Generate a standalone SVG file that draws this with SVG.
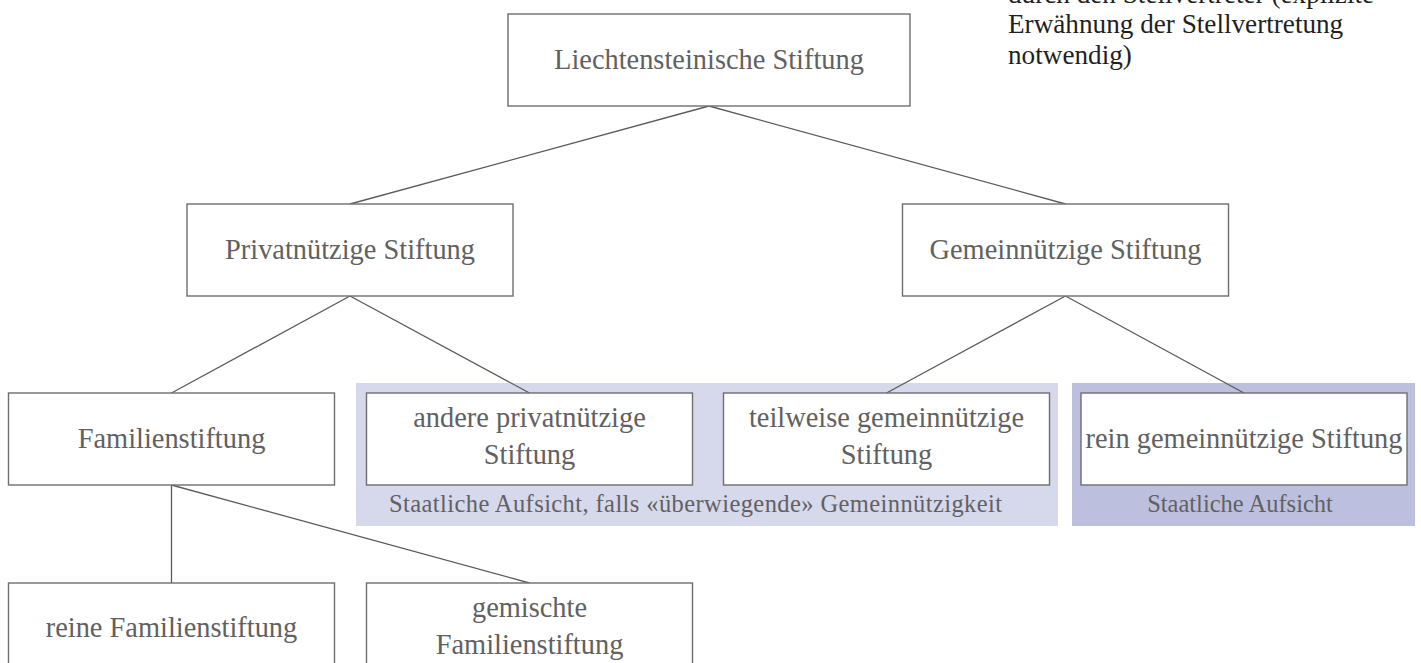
<svg xmlns="http://www.w3.org/2000/svg" width="1421" height="663" viewBox="0 0 1421 663">
<style>
.box{fill:#fff;stroke:#6e6e6e;stroke-width:1.4}
.t{font-family:"Liberation Serif","Times New Roman",serif;font-size:28.4px;fill:#616161;text-anchor:middle}
.lbl{font-family:"Liberation Serif","Times New Roman",serif;font-size:24.5px;fill:#616161}
.c{stroke:#5a5a5a;stroke-width:1.3;fill:none}
</style>
<rect width="1421" height="663" fill="#fff"/>
<g id="bands">
<rect x="356" y="383" width="702" height="143" fill="#d6d8ec"/>
<rect x="1072" y="383" width="343" height="143" fill="#bcc0de"/>
<text class="lbl" x="389" y="512" textLength="613" lengthAdjust="spacing">Staatliche Aufsicht, falls «überwiegende» Gemeinnützigkeit</text>
<text class="lbl" x="1240" y="512" text-anchor="middle">Staatliche Aufsicht</text>
</g>
<g id="connectors">
<line class="c" x1="709" y1="106" x2="350" y2="204"/>
<line class="c" x1="709" y1="106" x2="1065.5" y2="204"/>
<line class="c" x1="350" y1="296" x2="171.5" y2="393"/>
<line class="c" x1="350" y1="296" x2="529.5" y2="393"/>
<line class="c" x1="1065.5" y1="296" x2="886.5" y2="393"/>
<line class="c" x1="1065.5" y1="296" x2="1244" y2="393"/>
<line class="c" x1="171.5" y1="485" x2="171.5" y2="583"/>
<line class="c" x1="171.5" y1="485" x2="529.5" y2="583"/>
</g>
<g id="root">
<rect class="box" x="508" y="14" width="402" height="92"/>
<text class="t" x="709" y="68.5">Liechtensteinische Stiftung</text>
</g>
<g id="privat">
<rect class="box" x="187" y="204" width="326" height="92"/>
<text class="t" x="350" y="258.5">Privatnützige Stiftung</text>
</g>
<g id="gemein">
<rect class="box" x="902.5" y="204" width="326" height="92"/>
<text class="t" x="1065.5" y="258.5">Gemeinnützige Stiftung</text>
</g>
<g id="familie">
<rect class="box" x="8.5" y="393" width="326" height="92"/>
<text class="t" x="171.5" y="447.5">Familienstiftung</text>
</g>
<g id="andere">
<rect class="box" x="366.5" y="393" width="326" height="92"/>
<text class="t" x="529.5" y="427">andere privatnützige</text>
<text class="t" x="529.5" y="464">Stiftung</text>
</g>
<g id="teilweise">
<rect class="box" x="723.5" y="393" width="326" height="92"/>
<text class="t" x="886.5" y="427">teilweise gemeinnützige</text>
<text class="t" x="886.5" y="464">Stiftung</text>
</g>
<g id="rein">
<rect class="box" x="1081" y="393" width="326" height="92"/>
<text class="t" x="1244" y="447.5">rein gemeinnützige Stiftung</text>
</g>
<g id="reine">
<rect class="box" x="8.5" y="583" width="326" height="92"/>
<text class="t" x="171.5" y="636.5">reine Familienstiftung</text>
</g>
<g id="gemischt">
<rect class="box" x="366.5" y="583" width="326" height="92"/>
<text class="t" x="529.5" y="617">gemischte</text>
<text class="t" x="529.5" y="654">Familienstiftung</text>
</g>
<g id="note" font-family="'Liberation Serif', 'Times New Roman', serif" font-size="27.2" fill="#231f20">
<text x="1008" y="3">durch den Stellvertreter (explizite</text>
<text x="1008" y="33">Erwähnung der Stellvertretung</text>
<text x="1008" y="64">notwendig)</text>
</g>
</svg>
